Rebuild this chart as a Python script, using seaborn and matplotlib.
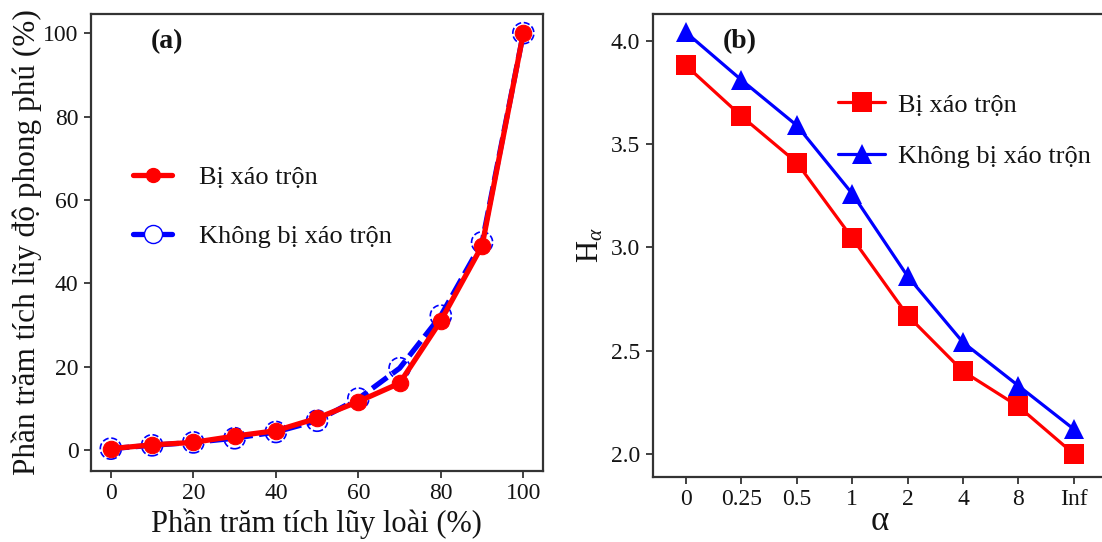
import matplotlib
matplotlib.use("Agg")
import matplotlib.pyplot as plt
from matplotlib.lines import Line2D
import seaborn as sns
import pandas as pd
import numpy as np

# ---- data ----
pct_species = [0, 10, 20, 30, 40, 50, 60, 70, 80, 90, 100]
abund_disturbed = [0.3, 1.2, 1.8, 3.3, 4.6, 7.6, 11.6, 16.0, 31.0, 49.0, 100.0]
abund_undisturbed = [0.3, 1.1, 1.8, 2.8, 4.3, 7.0, 12.3, 19.6, 32.2, 49.8, 100.0]

alpha_labels = ["0", "0.25", "0.5", "1", "2", "4", "8", "Inf"]
h_disturbed = [3.88, 3.635, 3.41, 3.045, 2.67, 2.40, 2.23, 2.00]
h_undisturbed = [4.04, 3.81, 3.59, 3.26, 2.86, 2.54, 2.33, 2.12]

series_names = ["Bị xáo trộn", "Không bị xáo trộn"]

sns.set_theme(style="white")
plt.rcParams["font.family"] = ["Liberation Serif", "DejaVu Serif"]
plt.rcParams["mathtext.fontset"] = "custom"
plt.rcParams["mathtext.rm"] = "Liberation Serif"
plt.rcParams["mathtext.it"] = "Liberation Serif:italic"

RED = "#ff0000"
BLUE = "#0000ff"
SPINE = "#333333"
TXT = "#141414"

fig = plt.figure(figsize=(11.02, 5.42), dpi=100)
ax1 = fig.add_axes([0.0826, 0.1315, 0.4099, 0.8427])
ax2 = fig.add_axes([0.5923, 0.1205, 0.4123, 0.8540])

# ---- panel (a) ----
dfa = pd.DataFrame({
    "x": pct_species * 2,
    "y": abund_undisturbed + abund_disturbed,
    "grp": [series_names[1]] * len(pct_species) + [series_names[0]] * len(pct_species),
})
da_u = dfa[dfa.grp == series_names[1]]
da_d = dfa[dfa.grp == series_names[0]]
sns.lineplot(data=da_u, x="x", y="y", ax=ax1, color=BLUE, lw=3.8,
             linestyle=(0, (3.5, 1.2)), legend=False, zorder=2)
sns.scatterplot(data=da_u, x="x", y="y", ax=ax1, s=230, facecolor="none",
                edgecolor=BLUE, linewidth=1.2, linestyle="--", legend=False, zorder=3)
sns.lineplot(data=da_d, x="x", y="y", ax=ax1, color=RED, lw=3.8, legend=False, zorder=4)
sns.scatterplot(data=da_d, x="x", y="y", ax=ax1, s=140, color=RED, edgecolor=RED,
                linewidth=0.8, legend=False, zorder=5)

ax1.set_xlim(-4.8, 104.7)
ax1.set_ylim(-5, 104.6)
ax1.set_xticks([0, 20, 40, 60, 80, 100])
ax1.set_yticks([0, 20, 40, 60, 80, 100])
ax1.set_xlabel("Phần trăm tích lũy loài (%)", fontsize=22, color=TXT, labelpad=3)
ax1.set_ylabel("Phần trăm tích lũy độ phong phú (%)", fontsize=22.5, color=TXT, labelpad=1)
ax1.text(0.168, 0.94, "(a)", transform=ax1.transAxes, ha="center", va="center",
         fontsize=20, fontweight="bold", color=TXT)

h1 = [Line2D([], [], color=RED, lw=3.8, marker="o", markersize=10, mfc=RED, mec=RED),
      Line2D([], [], color=BLUE, lw=3.8, marker="o", markersize=13, mfc="white",
             mec=BLUE, mew=1.0)]
ax1.legend(h1, series_names, loc="upper left", bbox_to_anchor=(0.04, 0.72),
           frameon=False, fontsize=19, handlelength=1.5, handletextpad=1.0,
           labelspacing=1.35, labelcolor=TXT)

# ---- panel (b) ----
xb = list(range(len(alpha_labels)))
dfb = pd.DataFrame({
    "x": xb * 2,
    "y": h_disturbed + h_undisturbed,
    "grp": [series_names[0]] * len(xb) + [series_names[1]] * len(xb),
})
sns.lineplot(data=dfb, x="x", y="y", hue="grp", style="grp",
             palette={series_names[0]: RED, series_names[1]: BLUE},
             markers={series_names[0]: "s", series_names[1]: "^"},
             dashes=False, ax=ax2, lw=2.3, markersize=14, markeredgewidth=0,
             legend=False)

ax2.set_xlim(-0.6, 7.6)
ax2.set_ylim(1.89, 4.13)
ax2.set_xticks(xb)
ax2.set_xticklabels(alpha_labels)
ax2.set_yticks([2.0, 2.5, 3.0, 3.5, 4.0])
ax2.set_yticklabels(["2.0", "2.5", "3.0", "3.5", "4.0"])
ax2.set_xlabel("α", fontsize=25, color=TXT, labelpad=-4)
ax2.set_ylabel(r"H$_{\alpha}$", fontsize=22, color=TXT, labelpad=4)
ax2.text(0.192, 0.94, "(b)", transform=ax2.transAxes, ha="center", va="center",
         fontsize=20, fontweight="bold", color=TXT)

h2 = [Line2D([], [], color=RED, lw=2.3, marker="s", markersize=14, mew=0),
      Line2D([], [], color=BLUE, lw=2.3, marker="^", markersize=14, mew=0)]
ax2.legend(h2, series_names, loc="upper left", bbox_to_anchor=(0.355, 0.88),
           frameon=False, fontsize=19, handlelength=1.8, handletextpad=0.5,
           labelspacing=1.05, labelcolor=TXT)

for ax in (ax1, ax2):
    for sp in ax.spines.values():
        sp.set_color(SPINE)
        sp.set_linewidth(1.6)
        sp.set_visible(True)
    ax.tick_params(axis="both", which="both", direction="out", length=5, width=1.3,
                   color=SPINE, labelsize=17, labelcolor=TXT, pad=4,
                   bottom=True, left=True)
    ax.grid(False)

fig.savefig("out.png", dpi=100)
